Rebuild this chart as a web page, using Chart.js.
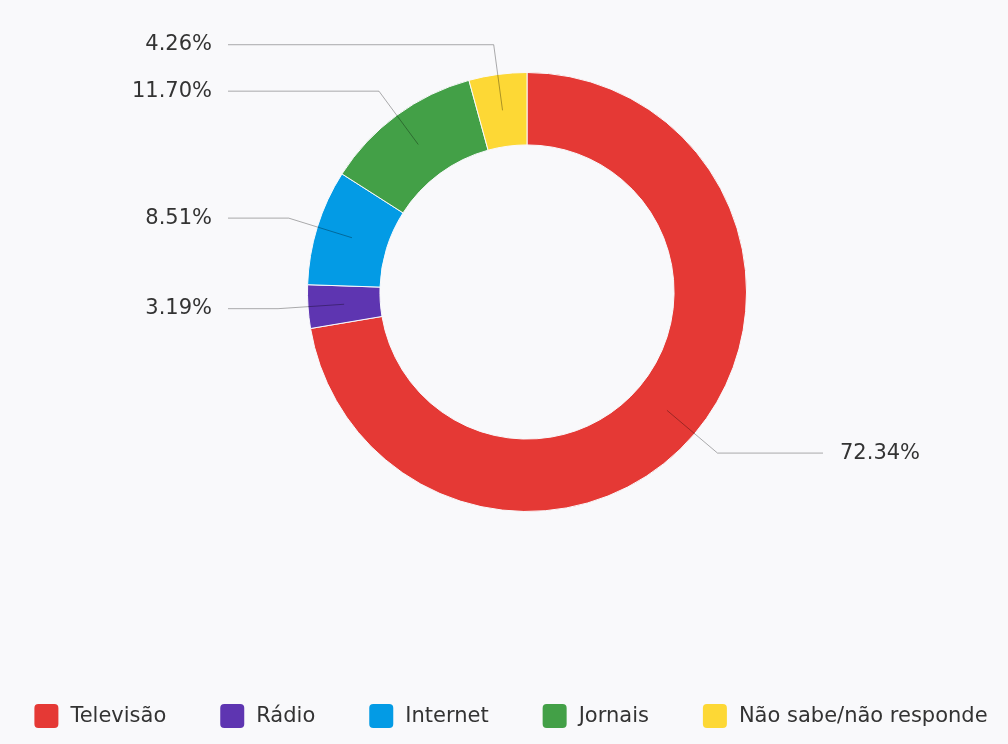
<!DOCTYPE html>
<html>
<head>
<meta charset="utf-8">
<title>Meios de informação</title>
<script src="https://cdn.jsdelivr.net/npm/chart.js@4.4.0/dist/chart.umd.min.js"></script>
<style>
  html, body { margin: 0; padding: 0; background: #f9f9fb; }
  #wrap { width: 1008px; height: 744px; }
</style>
</head>
<body>
<div id="wrap"><canvas id="myChart" width="1008" height="744"></canvas></div>
<script>
// slices, clockwise from 12 o'clock
const categories = ['Televisão', 'Rádio', 'Internet', 'Jornais', 'Não sabe/não responde'];
const percentages = [72.34, 3.19, 8.51, 11.70, 4.26];
const sliceColors = ['#e53935', '#5e35b1', '#039be5', '#43a047', '#fdd835'];

const textFont = '21px "DejaVu Sans"';
const textColor = '#333333';

// percentage labels with a bent leader line from the middle of the ring
const calloutLabels = {
    id: 'calloutLabels',
    afterDatasetsDraw(chart) {
        const ctx = chart.ctx;
        const arcs = chart.getDatasetMeta(0).data;
        const values = chart.data.datasets[0].data;

        ctx.save();
        ctx.font = textFont;
        ctx.textBaseline = 'middle';
        ctx.lineWidth = 1;

        arcs.forEach((arc, i) => {
            const p = arc.getProps(['x', 'y', 'startAngle', 'endAngle', 'innerRadius', 'outerRadius'], true);
            const mid = (p.startAngle + p.endAngle) / 2;
            const rIn = (p.innerRadius + p.outerRadius) / 2;
            const rOut = p.outerRadius + 30;

            const x0 = p.x + Math.cos(mid) * rIn;
            const y0 = p.y + Math.sin(mid) * rIn;
            const x1 = p.x + Math.cos(mid) * rOut;
            const y1 = p.y + Math.sin(mid) * rOut;
            const right = x1 >= p.x;
            const x2 = right ? p.x + 296 : p.x - 299;

            ctx.strokeStyle = 'rgba(0, 0, 0, 0.32)';
            ctx.beginPath();
            ctx.moveTo(x0, y0);
            ctx.lineTo(x1, y1);
            ctx.lineTo(x2, y1);
            ctx.stroke();

            ctx.fillStyle = textColor;
            ctx.textAlign = right ? 'left' : 'right';
            ctx.fillText(values[i].toFixed(2) + '%', right ? x2 + 17 : x2 - 16, y1);
        });
        ctx.restore();
    }
};

// single legend row under the doughnut
const legendRow = {
    id: 'legendRow',
    afterDraw(chart) {
        const ctx = chart.ctx;
        const ds = chart.data.datasets[0];
        const box = 24, gap = 12, itemGap = 54;
        const midX = 511, midY = 716;

        ctx.save();
        ctx.font = textFont;
        ctx.textBaseline = 'middle';
        ctx.textAlign = 'left';

        const widths = chart.data.labels.map(t => box + gap + ctx.measureText(t).width);
        const total = widths.reduce((a, b) => a + b, 0) + itemGap * (widths.length - 1);
        let x = midX - total / 2;

        chart.data.labels.forEach((label, i) => {
            ctx.fillStyle = ds.backgroundColor[i];
            ctx.beginPath();
            ctx.roundRect(x, midY - box / 2, box, box, 4);
            ctx.fill();
            ctx.fillStyle = textColor;
            ctx.fillText(label, x + box + gap, midY + 1);
            x += widths[i] + itemGap;
        });
        ctx.restore();
    }
};

const ctx = document.getElementById('myChart').getContext('2d');
const chart = new Chart(ctx, {
    type: 'doughnut',
    data: {
        labels: categories,
        datasets: [{
            data: percentages,
            backgroundColor: sliceColors,
            borderColor: '#f9f9fb',
            borderWidth: 1
        }]
    },
    options: {
        responsive: false,
        animation: false,
        cutout: '67%',
        layout: {
            padding: { left: 46, right: 0, top: 72, bottom: 232 }
        },
        plugins: {
            legend: { display: false },
            tooltip: { enabled: false }
        }
    },
    plugins: [calloutLabels, legendRow]
});
</script>
</body>
</html>
